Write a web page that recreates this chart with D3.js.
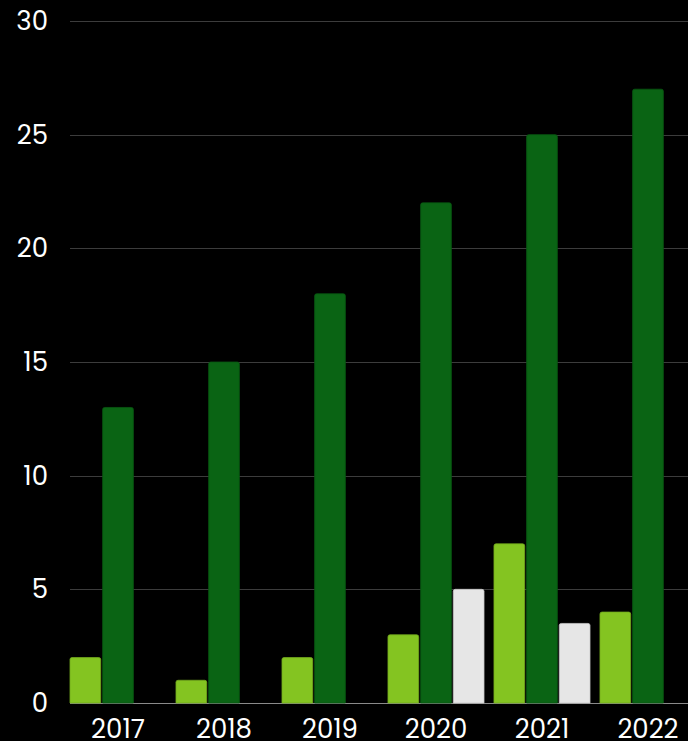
<!DOCTYPE html>
<html>
<head>
<meta charset="utf-8">
<script src="https://cdn.jsdelivr.net/npm/d3@7"></script>
<style>
  html, body { margin: 0; padding: 0; background: #000; }
  svg { display: block; }
  text { font-family: "Poppins", "Open Sans", sans-serif; fill: #fff; }
</style>
</head>
<body>
<svg id="chart" width="688" height="741"></svg>
<script>
const years = ["2017", "2018", "2019", "2020", "2021", "2022"];
const seriesNames = ["A", "B", "C"];
const seriesA = [2, 1, 2, 3, 7, 4];
const seriesB = [13, 15, 18, 22, 25, 27];
const seriesC = [null, null, null, 5, 3.5, null];
const seriesColors = ["#84c421", "#0a6414", "#e6e6e6"];
const yTicks = [0, 5, 10, 15, 20, 25, 30];

const W = 688, H = 741;
const margin = { left: 70, top: 21, bottom: 38 };
const svg = d3.select("#chart");

const y = d3.scaleLinear().domain([0, 30]).range([H - margin.bottom, margin.top]);
const x = d3.scaleBand().domain(years).range([margin.left, 696]).paddingInner(0.094).paddingOuter(0);
const xs = d3.scaleBand().domain(seriesNames).range([0, x.bandwidth()]).paddingInner(0.06);

// gridlines
svg.append("g").selectAll("line").data(yTicks).join("line")
  .attr("x1", margin.left).attr("x2", W)
  .attr("y1", d => Math.round(y(d)) + 0.5).attr("y2", d => Math.round(y(d)) + 0.5)
  .attr("stroke", d => d === 0 ? "#8a8a8a" : "#3c3c3c").attr("stroke-width", 1);

// y labels
svg.append("g").selectAll("text").data(yTicks).join("text")
  .attr("x", 48).attr("y", d => y(d)).attr("dy", "0.35em")
  .attr("text-anchor", "end").attr("font-size", 26).text(d => d);

// bars
const rows = [];
years.forEach((yr, i) => {
  [seriesA, seriesB, seriesC].forEach((s, j) => {
    if (s[i] != null) rows.push({ yr, key: seriesNames[j], v: s[i], c: seriesColors[j] });
  });
});

function barPath(x0, w, yTop, yBot, r) {
  return `M${x0},${yBot}V${yTop + r}Q${x0},${yTop} ${x0 + r},${yTop}H${x0 + w - r}Q${x0 + w},${yTop} ${x0 + w},${yTop + r}V${yBot}Z`;
}

svg.append("g").selectAll("path").data(rows).join("path")
  .attr("d", d => barPath(x(d.yr) + xs(d.key), xs.bandwidth(), y(d.v), y(0), 2))
  .attr("fill", d => d.c)
  .attr("stroke", d => d3.color(d.c).darker(0.4))
  .attr("stroke-width", 0.8);

// x labels
svg.append("g").selectAll("text").data(years).join("text")
  .attr("x", d => x(d) + x.bandwidth() / 2).attr("y", 738)
  .attr("text-anchor", "middle").attr("font-size", 26).text(d => d);
</script>
</body>
</html>
